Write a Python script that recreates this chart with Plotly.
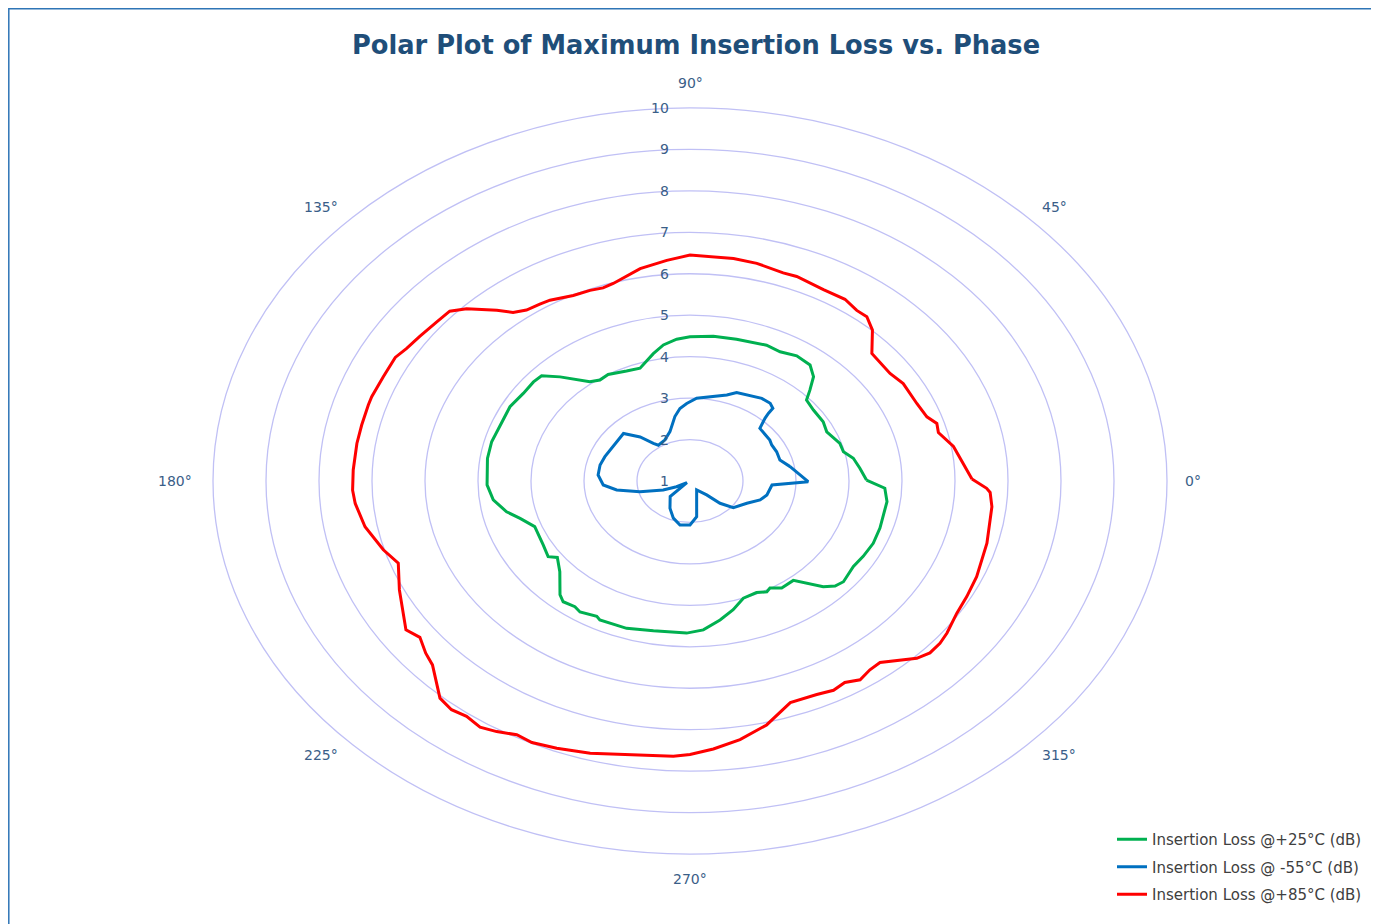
import numpy as np
import plotly.graph_objects as go

# ---------------- data (phase in degrees, max insertion loss in dB) ----------------
green_25C = [(0.4, 4.33), (5.5, 4.22), (10.1, 4.13), (13.7, 3.98), (17.8, 3.97), (24.7, 3.84), (29.6, 3.89),
             (36.3, 3.89), (41.6, 3.94), (44.1, 4.15), (47.2, 4.43), (51.0, 4.60), (56.3, 4.63), (61.4, 4.55),
             (66.2, 4.58), (69.2, 4.55), (75.6, 4.53), (82.8, 4.52), (90.0, 4.48), (94.2, 4.43), (98.7, 4.32),
             (102.7, 4.15), (109.1, 3.88), (114.3, 3.91), (121.0, 4.00), (124.9, 3.97), (128.3, 4.05),
             (134.3, 4.51), (137.8, 4.78), (141.0, 4.80), (146.1, 4.79), (152.2, 4.84), (159.4, 4.83),
             (165.8, 4.86), (171.9, 4.86), (181.4, 4.83), (187.0, 4.74), (192.1, 4.54), (195.7, 4.33),
             (200.6, 4.13), (209.1, 4.17), (214.3, 4.24), (216.4, 4.11), (221.7, 4.29), (228.2, 4.68),
             (230.6, 4.77), (234.4, 4.73), (236.7, 4.78), (241.7, 4.71), (243.1, 4.76), (251.4, 4.75),
             (259.2, 4.68), (269.0, 4.67), (274.0, 4.60), (279.6, 4.40), (284.7, 4.21), (289.6, 4.00),
             (295.0, 3.97), (298.5, 4.04), (300.3, 3.99), (303.8, 4.11), (309.1, 4.09), (314.6, 4.58),
             (317.2, 4.73), (320.0, 4.78), (322.1, 4.75), (326.2, 4.71), (330.9, 4.74), (336.5, 4.77),
             (342.4, 4.76), (352.4, 4.75), (357.3, 4.68)]

blue_m55C = [(10.4, 2.92), (16.6, 2.77), (23.3, 2.78), (29.4, 2.77), (33.2, 2.80), (40.7, 2.82), (43.9, 2.83),
             (46.9, 3.07), (47.8, 3.20), (48.3, 3.35), (51.1, 3.41), (55.8, 3.41), (62.7, 3.33), (67.6, 3.31),
             (71.5, 3.19), (77.8, 3.08), (86.4, 3.00), (91.9, 2.87), (96.2, 2.76), (100.4, 2.58), (104.3, 2.39),
             (107.6, 2.25), (115.5, 2.10), (124.6, 2.05), (127.3, 2.14), (131.5, 2.42), (137.6, 2.70),
             (143.9, 2.68), (150.3, 2.67), (159.9, 2.71), (167.2, 2.74), (175.2, 2.74), (183.4, 2.64),
             (188.9, 2.40), (195.3, 1.98), (203.3, 1.55), (208.6, 1.29), (215.0, 1.07), (225.1, 1.53),
             (240.2, 1.76), (250.7, 1.95), (259.9, 2.08), (270.0, 2.06), (278.3, 1.87), (300.1, 1.25),
             (313.1, 1.46), (316.5, 1.78), (321.8, 2.04), (333.4, 2.20), (340.9, 2.40), (346.9, 2.49),
             (356.4, 2.55), (359.6, 3.23)]

red_85C = [(0.5, 6.32), (9.5, 6.04), (14.0, 5.83), (16.6, 5.86), (19.1, 5.73), (23.6, 5.67), (30.3, 5.66),
           (34.5, 5.58), (41.9, 5.61), (46.6, 6.01), (49.9, 6.18), (52.6, 6.18), (56.3, 6.27), (61.4, 6.26),
           (67.8, 6.33), (70.7, 6.32), (76.5, 6.40), (81.3, 6.43), (90.0, 6.45), (94.7, 6.34), (100.4, 6.21),
           (106.9, 5.98), (109.4, 5.94), (112.3, 5.97), (116.2, 5.99), (121.2, 6.10), (123.6, 6.12),
           (126.8, 6.15), (129.4, 6.26), (131.5, 6.50), (135.4, 6.92), (137.9, 7.11), (141.2, 7.13),
           (145.6, 7.18), (149.1, 7.23), (151.8, 7.31), (156.5, 7.31), (161.3, 7.34), (163.2, 7.34),
           (167.7, 7.34), (171.8, 7.35), (177.6, 7.36), (182.0, 7.37), (184.9, 7.34), (190.2, 7.23),
           (196.0, 7.02), (199.8, 6.85), (205.6, 7.08), (213.8, 7.45), (216.5, 7.34), (219.8, 7.49),
           (222.4, 7.58), (228.0, 8.05), (230.8, 8.12), (233.4, 8.07), (236.3, 8.14), (238.9, 8.06),
           (241.9, 7.94), (244.7, 7.98), (248.7, 7.92), (254.0, 7.83), (260.8, 7.69), (267.3, 7.65),
           (270.0, 7.60), (273.9, 7.48), (278.6, 7.31), (283.8, 7.06), (289.5, 6.67), (294.9, 6.68),
           (298.2, 6.73), (301.0, 6.67), (303.8, 6.77), (306.7, 6.68), (309.3, 6.66), (315.0, 7.05),
           (317.5, 7.14), (320.3, 7.13), (322.9, 7.08), (327.6, 6.96), (331.9, 6.92), (336.9, 6.88),
           (345.0, 6.80), (353.8, 6.73), (357.2, 6.67), (358.2, 6.60)]

series_names = ["Insertion Loss @+25°C (dB)", "Insertion Loss @ -55°C (dB)", "Insertion Loss @+85°C (dB)"]
series_colors = ["#00B050", "#0070C0", "#FF0000"]

radial_ticks = [1, 2, 3, 4, 5, 6, 7, 8, 9, 10]
angle_ticks = [0, 45, 90, 135, 180, 225, 270, 315]
title_text = "Polar Plot of Maximum Insertion Loss vs. Phase"

# ---------------- geometry of the (stretched) radar plot ----------------
OFF = 8                      # page body margin
W, H = 1379 - OFF, 924 - OFF
CX, CY = 690 - OFF, 481 - OFF  # pixel centre inside the figure
PX_X, PX_Y = 53.0, 41.45     # pixels per dB horizontally / vertically
R_MIN = radial_ticks[0]
LABEL_R = 9.35

x_range = [-CX / PX_X, (W - CX) / PX_X]
y_range = [-(H - CY) / PX_Y, CY / PX_Y]

LABEL_COLOR = "#3A5E88"
FONT = "'DejaVu Sans', Verdana, sans-serif"


def to_xy(points):
    th = np.radians([p[0] for p in points] + [points[0][0]])
    rr = np.array([p[1] for p in points] + [points[0][1]]) - R_MIN
    return rr * np.cos(th), rr * np.sin(th)


fig = go.Figure()

for pts, name, col in zip([green_25C, blue_m55C, red_85C], series_names, series_colors):
    x, y = to_xy(pts)
    fig.add_trace(go.Scatter(x=x, y=y, mode="lines", name=name, legendgroup=name,
                             line=dict(color=col, width=3), hoverinfo="skip"))

shapes = []
for r in radial_ticks[1:]:
    u = r - R_MIN
    shapes.append(dict(type="circle", xref="x", yref="y", x0=-u, x1=u, y0=-u, y1=u,
                       line=dict(color="#C0C0F5", width=1.3), layer="below"))
# outer chart frame
shapes.append(dict(type="rect", xref="paper", yref="paper", x0=0.8 / W, x1=(1376 - OFF) / W,
                   y0=-0.02, y1=1 - 0.8 / H,
                   line=dict(color="#2E75B6", width=1.5), layer="below"))

annotations = []
for r in radial_ticks:
    annotations.append(dict(x=0, y=r - R_MIN, xref="x", yref="y", text=str(r), showarrow=False,
                            xanchor="right", yanchor="middle", xshift=-19,
                            font=dict(family=FONT, size=14, color=LABEL_COLOR)))
for a in angle_ticks:
    t = np.radians(a)
    c, s = np.cos(t), np.sin(t)
    xa = "left" if c > 0.1 else ("right" if c < -0.1 else "center")
    if abs(c) > 0.1 and abs(s) > 0.1:
        ya = "middle"
    else:
        ya = "bottom" if s > 0.1 else ("top" if s < -0.1 else "middle")
    annotations.append(dict(x=LABEL_R * c, y=LABEL_R * s, xref="x", yref="y",
                            text=f"{a}°", showarrow=False, xanchor=xa, yanchor=ya,
                            xshift=-3 if a == 0 else 0,
                            font=dict(family=FONT, size=14, color=LABEL_COLOR)))

fig.update_layout(
    width=W, height=H,
    margin=dict(l=0, r=0, t=0, b=0),
    paper_bgcolor="white", plot_bgcolor="white",
    title=dict(text=f"<b>{title_text}</b>", x=(696 - OFF) / W, xanchor="center",
               y=1 - (45 - OFF) / H, yanchor="middle",
               font=dict(family=FONT, size=25.7, color="#1F4E79")),
    xaxis=dict(range=x_range, visible=False, fixedrange=True),
    yaxis=dict(range=y_range, visible=False, fixedrange=True),
    shapes=shapes, annotations=annotations,
    showlegend=True,
    legend=dict(x=1104 / W, y=1 - 815 / H, xanchor="left", yanchor="top", tracegroupgap=5,
                bgcolor="rgba(0,0,0,0)", font=dict(family=FONT, size=15, color="#404040")),
)

fig.write_html("out.html")
